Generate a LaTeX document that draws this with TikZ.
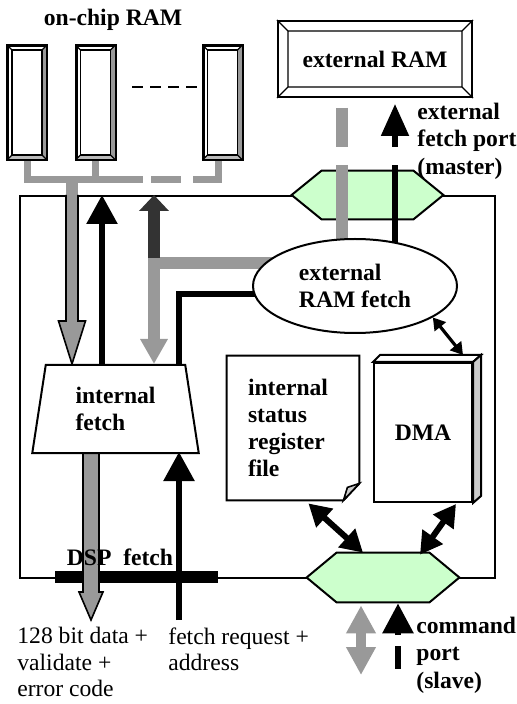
\documentclass[tikz,border=0pt]{standalone}
\usepackage{fontspec}
\setmainfont{Liberation Serif}
\usetikzlibrary{arrows.meta,shapes.geometric,calc,backgrounds}
\definecolor{busgray}{HTML}{999999}
\definecolor{darkbus}{HTML}{333333}
\definecolor{portgreen}{HTML}{CCFFCC}
\definecolor{sidegray}{HTML}{CCCCCC}
\definecolor{basegray}{HTML}{BBBBBB}

\begin{document}
\begin{tikzpicture}[
  x=0.5pt,y=-0.5pt,
  font=\fontsize{11.8}{13.3}\selectfont,
  line join=miter,
  lbl/.style={
    font=\fontsize{11.8}{13.6}\selectfont\bfseries,
    inner sep=0pt,
    align=left
  },
  txt/.style={
    inner sep=0pt,
    align=left,
    anchor=north west
  },
  bank/.style={
    rectangle,
    draw,
    line width=1pt,
    minimum width=19pt,
    minimum height=56.5pt,
    inner sep=0pt
  },
  port/.style={
    rectangle,
    inner sep=0pt
  },
  bus/.style={
    draw=busgray,
    line width=3.5pt
  },
  grayline/.style={
    draw=busgray,
    line width=5.8pt
  },
  blkline/.style={
    line width=2.8pt
  },
  fatarrow/.style={
    fill=busgray,
    draw=black,
    line width=0.8pt
  },
  twoway/.style={
    {Triangle[length=11pt,width=12pt]}-{Triangle[length=11pt,width=12pt]},
    line width=3pt
  }
]
\useasboundingbox (0,0) rectangle (517,704);

% ------------------------------------------------------------
% Memories
% ------------------------------------------------------------

\node[lbl] (title) at (113,20) {on-chip RAM};

\node[bank] (bankA) at (27,102.5) {};
\node[bank] (bankB) at (95.5,102.5) {};
\node[bank] (bankC) at (222.5,102.5) {};

\foreach \b in {bankA,bankB,bankC}{
  \coordinate (\b-a) at ($(\b.north west)+(5,5)$);
  \coordinate (\b-b) at ($(\b.north east)+(-5,5)$);
  \coordinate (\b-c) at ($(\b.south east)+(-5,-5)$);
  \coordinate (\b-d) at ($(\b.south west)+(5,-5)$);
  \fill[busgray] (\b.north east) -- (\b-b) -- (\b-c) -- (\b.south east) -- cycle;
  \fill[basegray] (\b.south east) -- (\b-c) -- (\b-d) -- (\b.south west) -- cycle;
  \draw[line width=0.6pt] (\b-a) rectangle (\b-c);
  \draw[line width=0.6pt]
    (\b.north west) -- (\b-a) (\b.north east) -- (\b-b)
    (\b.south east) -- (\b-c) (\b.south west) -- (\b-d);
  \draw[line width=1pt] (\b.north west) rectangle (\b.south east);
}

\draw[line width=1pt,dash pattern=on 5.5pt off 3.5pt]
  (132,87) -- (197,87);

\node[draw,line width=1pt,minimum width=97pt,minimum height=38pt,
  inner sep=0pt,font=\fontsize{11.8}{13.6}\selectfont\bfseries]
  (extram) at (375,59) {external RAM};
\draw[line width=0.6pt]
  ($(extram.north west)+(11,11)$) rectangle ($(extram.south east)+(-11,-11)$)
  (extram.north west) -- ++(11,11)
  (extram.north east) -- ++(-11,11)
  (extram.south east) -- ++(-11,-11)
  (extram.south west) -- ++(11,-11);

% ------------------------------------------------------------
% Units inside the chip
% ------------------------------------------------------------

\node[
  trapezium,
  trapezium angle=80,
  trapezium stretches=true,
  draw,
  fill=white,
  line width=1pt,
  minimum width=83.5pt,
  minimum height=44pt,
  inner sep=0pt,
  lbl
] (intfetch) at (115.5,409) {internal\\fetch};

\node[
  ellipse,
  draw,
  fill=white,
  line width=1pt,
  minimum width=102pt,
  minimum height=47pt,
  inner sep=0pt,
  lbl
] (extfetch) at (355,286) {external\\RAM fetch};

\node[lbl,minimum width=66pt,minimum height=72pt,text width=45pt]
  (regfile) at (293,428) {internal\\status\\register\\file};

\node[draw,fill=white,line width=1pt,minimum width=49pt,
  minimum height=69.5pt,inner sep=0pt,lbl]
  (dma) at (423,432.5) {DMA};
\filldraw[fill=white,line width=1pt]
  (dma.north west) -- ++(7,-7) -- ($(dma.north east)+(8,-7)$)
  -- (dma.north east) -- cycle;
\filldraw[fill=sidegray,line width=1pt]
  (dma.north east) -- ++(8,-7) -- ($(dma.south east)+(8,-7)$)
  -- (dma.south east) -- cycle;

\node[port,minimum width=75.5pt,minimum height=24pt] (extport) at (367.5,195) {};
\node[port,minimum width=76pt,minimum height=24.5pt] (cmdport) at (383,577.5) {};

% columns of the vertical links
\coordinate (colA) at (72,0);
\coordinate (colO) at (91,0);
\coordinate (colK) at (102,0);
\coordinate (colB) at (154,0);
\coordinate (colD) at (179,0);
\coordinate (colE) at (342,0);
\coordinate (colG) at (361,0);
\coordinate (colF) at (395,0);
\coordinate (colH) at (398,0);
\coordinate (split) at (154,263);
\coordinate (busdrop) at (72,180);
\coordinate (dmatop) at ($(dma.north east)+(-10,-7)$);

% ------------------------------------------------------------
% Chip frame, ports and links (behind the units)
% ------------------------------------------------------------

\begin{scope}[on background layer]
\node[draw,line width=1pt,minimum width=237.5pt,minimum height=191pt,
  inner sep=0pt] (chip) at (257.5,387) {};

\foreach \p in {extport,cmdport}{
  \filldraw[fill=portgreen,line width=1pt]
    (\p.west) -- ($(\p.north west)+(30,0)$) -- ($(\p.north east)+(-30,0)$)
    -- (\p.east) -- ($(\p.south east)+(-30,0)$) -- ($(\p.south west)+(30,0)$)
    -- cycle;
}

\filldraw[fill=white,line width=1pt]
  (regfile.north west) -- (regfile.north east)
  -- ($(regfile.south east)+(0,-17)$) -- ($(regfile.south east)+(-16,0)$)
  -- (regfile.south west) -- cycle;
\filldraw[fill=sidegray,line width=0.8pt]
  ($(regfile.south east)+(-16,0)$) -- ($(regfile.south east)+(-12,-13)$)
  -- ($(regfile.south east)+(0,-17)$) -- cycle;

% DSP fetch bar
\draw[line width=6pt] (55,577) -- (218,577);

% on-chip RAM bus
\draw[bus] (bankA.south) |- (143,180);
\draw[bus] (bankB.south) -- (bankB.south |- busdrop);
\draw[bus] (151,180) -- (181,180);
\draw[bus] ($(bankC.south)+(-4.5,0)$) |- (193,180);
\draw[bus,line width=6pt] (busdrop) -- (colA |- chip.north);

\coordinate (inTop) at (colA |- chip.north);
\coordinate (inTip) at (colA |- intfetch.north);
\filldraw[fatarrow]
  ($(inTop)+(-6,0)$) -- ($(inTip)+(-6,-43)$) -- ($(inTip)+(-13.5,-43)$)
  -- (inTip) -- ($(inTip)+(13.5,-43)$) -- ($(inTip)+(6,-43)$)
  -- ($(inTop)+(6,0)$);

\draw[blkline,-{Triangle[length=14.5pt,width=15pt]}]
  (colK |- intfetch.north) -- (colK |- chip.north);

\draw[grayline,-{Triangle[length=12.5pt,width=13pt]}]
  (split -| extfetch.center) -- (split) -- (colB |- intfetch.north);
\draw[grayline,draw=darkbus,-{Triangle[length=8pt,width=14.5pt]}]
  ($(split)+(0,-5)$) -- (colB |- chip.north);

\draw[blkline]
  ($(extfetch.center)+(0,8)$) -| (colD |- intfetch.north);

% DSP side
\coordinate (outTop) at (colO |- intfetch.south);
\coordinate (outTip) at (91,620);
\filldraw[fatarrow]
  ($(outTop)+(-8,0)$) -- ($(outTip)+(-8,-28)$) -- ($(outTip)+(-12,-28)$)
  -- (outTip) -- ($(outTip)+(12,-28)$) -- ($(outTip)+(8,-28)$)
  -- ($(outTop)+(8,0)$);
\coordinate (reqIn) at (179,620);
\draw[blkline,-{Triangle[length=14.5pt,width=15pt]}]
  (reqIn) -- ($(colD |- intfetch.south)+(0,-2)$);

% external fetch port
\draw[grayline] ($(colE |- extram.south)+(0,10)$) -- (colE |- 0,147);
\draw[grayline] (colE |- 0,165) -- (colE |- extfetch.center);
\draw[line width=2.6pt] (colF |- extfetch.center) -- (colF |- 0,165);
\draw[line width=2.6pt,-{Triangle[length=16pt,width=13.5pt]}]
  (colF |- 0,147) -- ($(colF |- extram.south)+(0,6)$);

% internal links to the command port
\draw[{Triangle[length=6pt,width=7pt]}-{Triangle[length=6pt,width=7pt]},
  line width=1.6pt]
  (extfetch.-22) -- (dmatop);
\draw[twoway] ($(regfile.south east)+(-51,3)$) -- ($(cmdport.north)+(-20,0)$);
\draw[twoway] ($(dma.south east)+(-17,1)$) -- ($(cmdport.north)+(37,2)$);

% command port
\draw[grayline,line width=5pt,
  {Triangle[length=14pt,width=14pt]}-{Triangle[length=14pt,width=14pt]}]
  ($(colG |- cmdport.south)+(0,3)$) -- (colG |- 0,675);
\draw[line width=3pt,-{Triangle[length=15pt,width=15pt]}]
  (colH |- 0,635) -- ($(colH |- cmdport.south)+(0,1)$);
\draw[line width=3pt] (colH |- 0,646) -- (colH |- 0,669);
\end{scope}

% ------------------------------------------------------------
% Labels
% ------------------------------------------------------------

\node[lbl] (dsplbl) at (120,557) {DSP\ \ fetch};
\node[lbl,anchor=north west] (extlbl) at (417,103)
  {external\\fetch port\\(master)};
\node[lbl,anchor=north west] (cmdlbl) at (416,617)
  {command\\port\\(slave)};
\node[txt] (outlbl) at (17,627)
  {128 bit data +\\validate +\\error code};
\node[txt] (reqlbl) at (168,627)
  {fetch request +\\address};
\end{tikzpicture}
\end{document}
